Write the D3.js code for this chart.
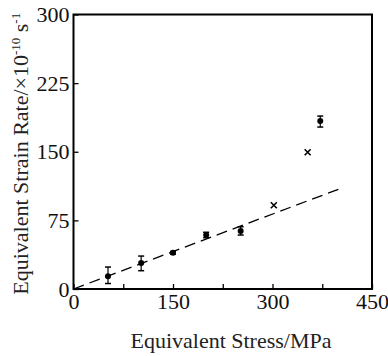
<!DOCTYPE html>
<html><head><meta charset="utf-8">
<script src="https://cdn.jsdelivr.net/npm/d3@7"></script>
<style>body{margin:0;background:#fff}svg{display:block}</style>
</head><body>
<svg id="c" width="388" height="356"></svg>
<script>
const stressDots = [52, 102, 150, 200, 252, 372];
const rateDots = [14, 28.5, 39.5, 59, 63.5, 183.5];
const errLow = [6, 20, 38, 56, 59, 177];
const errHigh = [24, 36, 41, 62, 68, 189];
const stressCross = [302, 353];
const rateCross = [91.5, 149.5];
const fitX = [0, 403];
const fitY = [0, 110];
const xTicks = [0, 75, 150, 225, 300, 375, 450];
const xLabels = [0, 150, 300, 450];
const yTicks = [0, 75, 150, 225, 300];

const FONT = '"Liberation Serif"';
const svg = d3.select("#c");
const L = 73.5, R = 372, T = 14.5, B = 289;
const x = d3.scaleLinear().domain([0, 450]).range([L, R]);
const y = d3.scaleLinear().domain([0, 300]).range([B, T]);

svg.append("rect").attr("x", L).attr("y", T).attr("width", R - L).attr("height", B - T)
  .attr("fill", "none").attr("stroke", "#000").attr("stroke-width", 2);

const xa = svg.append("g").attr("transform", `translate(0,${B})`)
  .call(d3.axisBottom(x).tickValues(xTicks).tickSizeInner(-5).tickSizeOuter(0)
    .tickFormat(d => xLabels.includes(d) ? d : ""));
xa.attr("font-family", null);
xa.select(".domain").remove();
xa.selectAll("line").attr("stroke-width", 1.3);
xa.selectAll("text").style("font-family", FONT).attr("font-size", 22).attr("fill", "#111").attr("dy", "0.71em").attr("y", 4);

const ya = svg.append("g").attr("transform", `translate(${L},0)`)
  .call(d3.axisLeft(y).tickValues(yTicks).tickSizeInner(-5).tickSizeOuter(0));
ya.attr("font-family", null);
ya.select(".domain").remove();
ya.selectAll("line").attr("stroke-width", 1.3);
ya.selectAll("text").style("font-family", FONT).attr("font-size", 22).attr("fill", "#111").attr("x", -4);

svg.append("line").attr("x1", x(fitX[0])).attr("y1", y(fitY[0])).attr("x2", x(fitX[1])).attr("y2", y(fitY[1]))
  .attr("stroke", "#000").attr("stroke-width", 1.3).attr("stroke-dasharray", "11,6");

const g = svg.append("g");
stressDots.forEach((s, i) => {
  const cx = x(s);
  g.append("line").attr("x1", cx).attr("x2", cx).attr("y1", y(errLow[i])).attr("y2", y(errHigh[i])).attr("stroke", "#000").attr("stroke-width", 1.2);
  [errLow[i], errHigh[i]].forEach(v => g.append("line").attr("x1", cx - 3).attr("x2", cx + 3).attr("y1", y(v)).attr("y2", y(v)).attr("stroke", "#000").attr("stroke-width", 1.5));
  g.append("circle").attr("cx", cx).attr("cy", y(rateDots[i])).attr("r", 3).attr("fill", "#000");
});
stressCross.forEach((s, i) => {
  const cx = x(s), cy = y(rateCross[i]);
  g.append("path").attr("d", `M${cx-3},${cy-3}L${cx+3},${cy+3}M${cx-3},${cy+3}L${cx+3},${cy-3}`)
    .attr("stroke", "#000").attr("stroke-width", 1.6);
});

svg.append("text").attr("x", 231).attr("y", 348).attr("text-anchor", "middle").style("font-family", FONT)
  .attr("font-size", 22).attr("fill", "#222").text("Equivalent Stress/MPa");

const yt = svg.append("text").attr("transform", `translate(28,${(T + B) / 2 + 2}) rotate(-90)`)
  .attr("text-anchor", "middle").style("font-family", FONT).attr("font-size", 22).attr("fill", "#222");
yt.append("tspan").text("Equivalent Strain Rate/×10");
yt.append("tspan").attr("dy", -8).attr("font-size", 13).text("-10");
yt.append("tspan").attr("dy", 8).text(" s");
yt.append("tspan").attr("dy", -8).attr("font-size", 13).text("-1");
</script>
</body></html>
